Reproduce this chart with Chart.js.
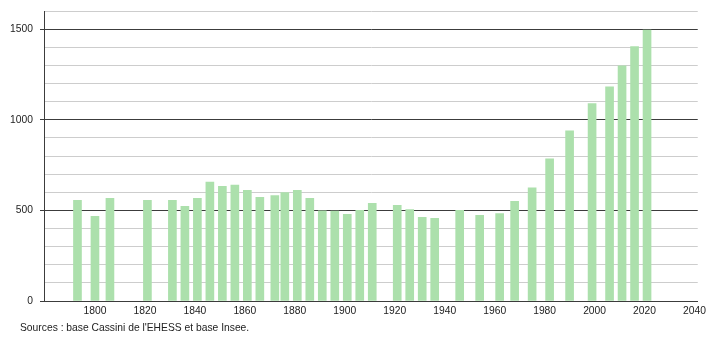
<!DOCTYPE html>
<html>
<head>
<meta charset="utf-8">
<script src="https://cdn.jsdelivr.net/npm/chart.js@4"></script>
<style>
  html, body { margin: 0; padding: 0; background: #fff; }
  #wrap { position: relative; width: 710px; height: 340px; }
  #source {
    position: absolute; left: 20px; top: 322px;
    font: 10.3px "Liberation Sans", Arial, sans-serif; color: #222;
    white-space: nowrap;
  }
</style>
</head>
<body>
<div id="wrap">
  <canvas id="chart" width="710" height="340"></canvas>
  <div id="source">Sources : base Cassini de l'EHESS et base Insee.</div>
</div>
<script>
// census years and population
var years = [1793, 1800, 1806, 1821, 1831, 1836, 1841, 1846, 1851, 1856, 1861, 1866,
  1872, 1876, 1881, 1886, 1891, 1896, 1901, 1906, 1911, 1921, 1926, 1931, 1936,
  1946, 1954, 1962, 1968, 1975, 1982, 1990, 1999, 2006, 2011, 2016, 2021];
var population = [556, 467, 567, 556, 556, 522, 567, 656, 633, 639, 611, 572,
  581, 598, 611, 567, 498, 496, 478, 500, 539, 528, 504, 461, 456,
  500, 472, 483, 550, 624, 785, 939, 1089, 1182, 1298, 1404, 1495];

var xTicks = [1800, 1820, 1840, 1860, 1880, 1900, 1920, 1940, 1960, 1980, 2000, 2020, 2040];
var yLabels = [0, 500, 1000, 1500];

var barColor = "rgb(172, 224, 172)";
var darkLine = "#3c3c3c";
var lightLine = "#cdcdcd";
var font = { family: "'Liberation Sans', Arial, sans-serif", size: 10.3 };

var points = years.map(function (y, i) {
  return { x: y, y: population[i] };
});

new Chart(document.getElementById("chart").getContext("2d"), {
  type: "bar",
  data: {
    datasets: [{
      data: points,
      backgroundColor: barColor,
      borderWidth: 0,
      barThickness: 8,
    }],
  },
  options: {
    responsive: false,
    animation: false,
    layout: { padding: { top: 11, right: 9, bottom: 21, left: 0 } },
    plugins: { legend: { display: false }, tooltip: { enabled: false } },
    scales: {
      x: {
        type: "linear",
        offset: false,
        min: 1779.6,
        max: 2041.3,
        afterBuildTicks: function (scale) {
          scale.ticks = xTicks.map(function (v) { return { value: v }; });
        },
        afterFit: function (scale) { scale.height = 18; },
        grid: { display: true, drawOnChartArea: false, drawTicks: false, offset: false },
        border: { display: true, color: darkLine, width: 1 },
        ticks: {
          color: "#222", font: font, padding: 4, maxRotation: 0, autoSkip: false,
          callback: function (v) { return String(v); },
        },
      },
      y: {
        min: 0,
        max: 1600,
        afterFit: function (scale) {
          scale.width = 44;
          scale.paddingTop = 0;
          scale.paddingBottom = 0;
        },
        ticks: {
          stepSize: 100,
          color: "#222",
          font: font,
          padding: 7,
          callback: function (v) { return yLabels.indexOf(v) >= 0 ? String(v) : ""; },
        },
        grid: {
          tickLength: 4,
          color: function (ctx) {
            return ctx.tick && ctx.tick.value % 500 === 0 && ctx.tick.value > 0 ? darkLine : lightLine;
          },
          tickColor: function (ctx) {
            return ctx.tick && ctx.tick.value % 500 === 0 ? darkLine : "rgba(0,0,0,0)";
          },
        },
        border: { display: true, color: darkLine, width: 1 },
      },
      yMinor: {
        position: "left",
        min: 0,
        max: 1600,
        afterFit: function (scale) { scale.width = 0; },
        ticks: { stepSize: 100, display: false },
        grid: { drawOnChartArea: false, tickLength: 2, tickColor: darkLine },
        border: { display: false },
      },
    },
  },
});
</script>
</body>
</html>
